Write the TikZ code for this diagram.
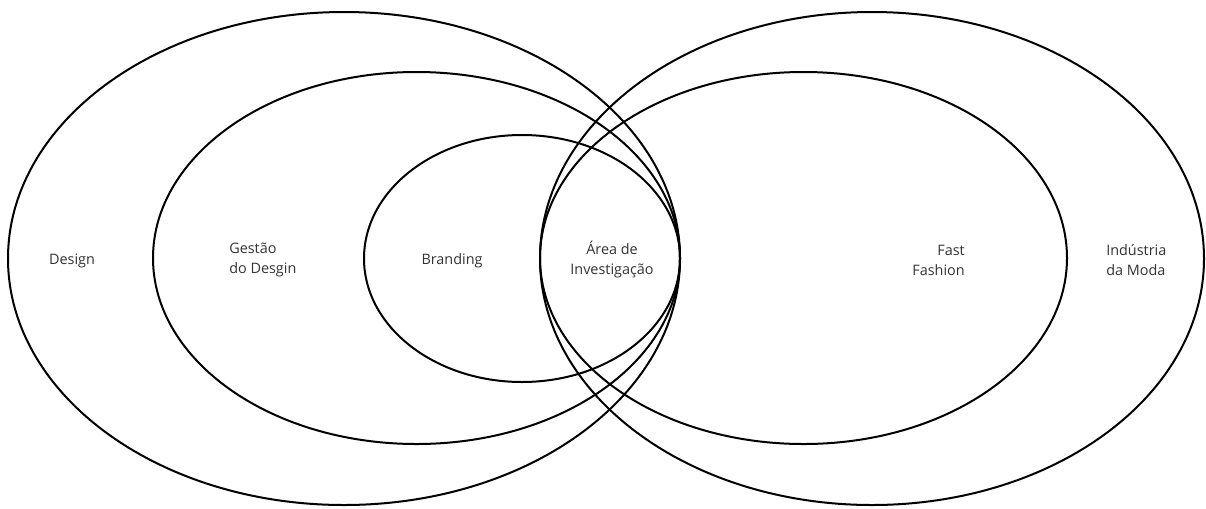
\documentclass[tikz,border=0pt]{standalone}
\usepackage{fontspec}
\setmainfont{Open Sans}
\definecolor{txt}{HTML}{333333}
\begin{document}
\begin{tikzpicture}[x=0.75pt,y=-0.75pt,
  ring/.style={draw=black,line width=1.5pt},
  lbl/.style={inner sep=0pt,text=txt,font=\fontsize{10.8}{15}\selectfont}]
\useasboundingbox (0,0) rectangle (1206,508);
% centres
\coordinate (cDesign) at (344,258.5);
\coordinate (cGestao) at (416.5,258);
\coordinate (cBrand) at (522,258.5);
\coordinate (cInd) at (872,258.5);
\coordinate (cFast) at (803.5,258);
% ellipses
\draw[ring] (cDesign) ellipse [x radius=336, y radius=246.5];
\draw[ring] (cGestao) ellipse [x radius=263.5, y radius=186];
\draw[ring] (cBrand) ellipse [x radius=158, y radius=123.5];
\draw[ring] (cInd) ellipse [x radius=332, y radius=246.5];
\draw[ring] (cFast) ellipse [x radius=263.5, y radius=186];
% labels
\node[lbl,anchor=base] (design) at (72,264) {Design};
\node[lbl,anchor=west,align=left] (gestao) at (229,260) {Gestão\\do Desgin};
\node[lbl,anchor=base] (branding) at (452,264) {Branding};
\node[lbl,align=center] (area) at (612,260) {Área de\\Investigação};
\node[lbl,anchor=east,align=right] (fast) at (965,260) {Fast\\Fashion};
\node[lbl,anchor=west,align=left] (ind) at (1106,260) {Indústria\\da Moda};
\end{tikzpicture}
\end{document}
